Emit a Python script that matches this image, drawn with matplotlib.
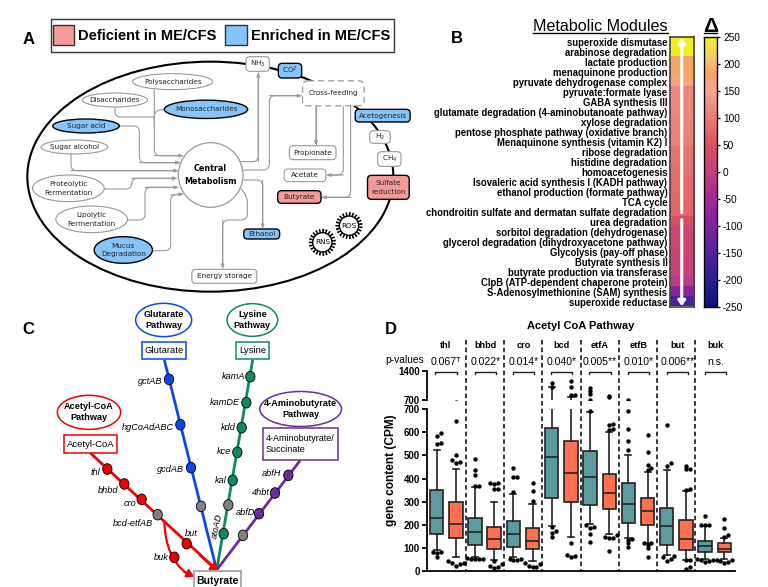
#!/usr/bin/env python
# coding: utf-8

import numpy as np
import matplotlib
matplotlib.use('Agg')
import matplotlib.pyplot as plt
from matplotlib.colors import LinearSegmentedColormap
from matplotlib.patches import Circle, Ellipse, FancyBboxPatch, PathPatch, Rectangle
from matplotlib.path import Path

plt.rcParams['font.family'] = ['Liberation Sans', 'DejaVu Sans']

W, H = 768, 587
PINK = '#F59A98'
BLUE = '#86C5FA'
GREY = '#999999'

# ---- panel A data
legend_names = ['Deficient in ME/CFS', 'Enriched in ME/CFS']

a_ellipses = ['Polysaccharides', 'Disaccharides', 'Monosaccharides', 'Sugar acid', 'Sugar alcohol',
              'Proteolytic\nFermentation', 'Lipolytic\nFermentation', 'Mucus\nDegradation']
a_ellipse_x = [518, 345, 618, 258, 223, 205, 275, 370]
a_ellipse_y = [245, 300, 328, 378, 441, 565, 658, 750]
a_ellipse_w = [240, 195, 250, 200, 200, 215, 215, 175]
a_ellipse_h = [48, 42, 55, 42, 42, 80, 80, 80]
a_ellipse_on = [0, 0, 1, 1, 0, 0, 0, 1]

a_boxes = ['NH$_3$', 'CO$^2$', 'Acetogenesis', 'H$_2$', 'CH$_4$', 'Sulfate\nreduction', 'Propionate',
           'Acetate', 'Butyrate', 'Ethanol', 'Energy storage']
a_box_x = [773, 870, 1148, 1140, 1168, 1165, 938, 915, 898, 785, 673]
a_box_y = [192, 212, 347, 411, 477, 562, 458, 526, 591, 702, 829]
a_box_w = [70, 70, 165, 62, 70, 125, 140, 125, 130, 108, 195]
a_box_h = [44, 44, 38, 38, 44, 72, 42, 38, 38, 30, 42]
a_box_fill = ['none', 'blue', 'blue', 'none', 'none', 'pink', 'none', 'none', 'pink', 'blue', 'none']

# grey routes between the nodes, last flag says if it ends in an arrow
a_routes = [
    ([(463, 268), (463, 467), (550, 467)], True),
    ([(345, 322), (345, 351), (463, 351)], False),
    ([(493, 328), (463, 332), (463, 380)], False),
    ([(358, 378), (418, 378), (418, 488), (540, 488)], True),
    ([(213, 462), (213, 512), (535, 512)], True),
    ([(312, 567), (395, 567), (395, 535), (530, 535)], True),
    ([(383, 660), (435, 660), (435, 562), (535, 562)], True),
    ([(458, 752), (512, 752), (512, 585), (550, 582)], True),
    ([(722, 485), (775, 485), (775, 218)], True),
    ([(730, 510), (808, 510), (808, 287), (905, 287)], True),
    ([(948, 318), (948, 435)], True),
    ([(1030, 318), (1030, 525), (980, 525)], True),
    ([(1052, 318), (1052, 592), (965, 592)], True),
    ([(730, 540), (788, 540), (788, 685)], True),
    ([(722, 565), (742, 590), (742, 660), (668, 660), (668, 805)], True),
]

# ---- panel B data
modules = ['superoxide dismutase', 'arabinose degradation', 'lactate production', 'menaquinone production',
           'pyruvate dehydrogenase complex', 'pyruvate:formate lyase', 'GABA synthesis III',
           'glutamate degradation (4-aminobutanoate pathway)', 'xylose degradation',
           'pentose phosphate pathway (oxidative branch)', 'Menaquinone synthesis (vitamin K2) I',
           'ribose degradation', 'histidine degradation', 'homoacetogenesis',
           'Isovaleric acid synthesis I (KADH pathway)', 'ethanol production (formate pathway)', 'TCA cycle',
           'chondroitin sulfate and dermatan sulfate degradation', 'urea degradation',
           'sorbitol degradation (dehydrogenase)', 'glycerol degradation (dihydroxyacetone pathway)',
           'Glycolysis (pay-off phase)', 'Butyrate synthesis II', 'butyrate production via transferase',
           'ClpB (ATP-dependent chaperone protein)', 'S-Adenosylmethionine (SAM) synthesis',
           'superoxide reductase']
delta = [250, 250, 185, 185, 170, 112, 112, 112, 110, 108, 105, 90, 88, 85, 82, 80, 78, 76,
         45, 20, 20, 18, 15, 15, -10, -85, -160]
delta_ticks = [250, 200, 150, 100, 50, 0, -50, -100, -150, -200, -250]
cmap_stops = [(0.0, '#0A1478'), (0.1, '#2A2090'), (0.2, '#54229F'), (0.3, '#7F229E'), (0.4, '#A3299A'),
              (0.5, '#C24080'), (0.6, '#D9505F'), (0.7, '#EA7C78'), (0.8, '#F5A595'), (0.87, '#F5A565'),
              (0.92, '#F5C870'), (1.0, '#F0F020')]

# ---- panel C data
pathway_names = ['Glutarate\nPathway', 'Lysine\nPathway', 'Acetyl-CoA\nPathway', '4-Aminobutyrate\nPathway']
pathway_x = [491, 757, 267, 902]
pathway_y = [75, 75, 352, 342]
pathway_w = [168, 152, 190, 245]
pathway_h = [100, 98, 102, 105]
pathway_col = ['#0A47F0', '#0E8A5C', '#F00000', '#6A2C9E']
start_names = ['Glutarate', 'Lysine', 'Acetyl-CoA', '4-Aminobutyrate/\nSuccinate']
start_x0 = [425, 709, 192, 788]
start_x1 = [558, 808, 352, 1014]
start_y0 = [140, 140, 420, 400]
start_y1 = [193, 193, 475, 495]
line_from = [(493, 195), (758, 195), (272, 475), (900, 497)]
butyrate_xy = (650, 825)

gene_names = ['gctAB', 'hgCoAdABC', 'gcdAB', '', 'kamA', 'kamDE', 'kdd', 'kce', 'kal', '', 'atoAD',
              'abfH', '4hbt', 'abfD', '', 'thl', 'bhbd', 'cro', 'bcd-etfAB', 'but', 'buk']
gene_x = [507, 541, 573, 603, 751, 739, 725, 712, 698, 685, 671, 865, 825, 777, 729, 322, 373, 425, 473, 560, 523]
gene_y = [253, 389, 518, 634, 245, 323, 398, 472, 556, 630, 716, 541, 594, 656, 721, 522, 567, 613, 659, 746, 787]
gene_way = [0, 0, 0, -1, 1, 1, 1, 1, 1, -1, 1, 3, 3, 3, -1, 2, 2, 2, -1, 2, 2]
label_x = [488, 522, 553, 0, 735, 720, 707, 695, 681, 0, 652, 845, 808, 765, 0, 302, 355, 408, 460, 592, 507]
label_y = [260, 398, 522, 0, 245, 322, 397, 469, 557, 0, 692, 537, 592, 652, 0, 533, 587, 626, 684, 714, 789]

# ---- panel D data
groups = ['thl', 'bhbd', 'cro', 'bcd', 'etfA', 'etfB', 'but', 'buk']
p_values = ['0.067\u1d40', '0.022*', '0.014*', '0.040*', '0.005**', '0.010*', '0.006**', 'n.s.']
y_lower_ticks = [0, 100, 200, 300, 400, 500, 600, 700]
y_upper_ticks = [700, 1400]

q1 = [160, 142, 113, 95, 105, 95, 315, 300, 287, 268, 207, 200, 113, 92, 83, 82]
med = [232, 202, 168, 140, 160, 130, 495, 422, 408, 338, 290, 258, 197, 140, 107, 97]
q3 = [352, 298, 228, 192, 218, 188, 620, 560, 520, 420, 382, 316, 273, 220, 132, 120]
whis_lo = [90, 60, 60, 48, 60, 45, 195, 150, 205, 160, 145, 120, 70, 50, 55, 55]
whis_hi = [525, 443, 362, 300, 332, 290, 1022, 780, 685, 600, 500, 430, 435, 345, 195, 145]
outliers = [
    [62, 80, 85, 85, 550, 555, 585, 595],
    [25, 30, 35, 35, 45, 465, 470, 480, 500, 650],
    [55, 55, 55, 55, 58, 370, 370, 415, 435, 485],
    [15, 20, 25, 30, 45, 355, 355, 375, 380, 380],
    [50, 50, 55, 55, 342, 408, 408, 447],
    [18, 20, 25, 30, 35, 305, 345, 380],
    [150, 165, 175, 190, 1020, 1100],
    [62, 65, 72, 120, 810, 820, 1020, 1160],
    [128, 160, 185, 190, 200, 690, 850, 920, 1000],
    [88, 145, 145, 150, 155, 610, 615, 630, 635, 780, 800],
    [105, 120, 135, 140, 525, 560, 615, 690],
    [60, 100, 115, 120, 120, 435, 445, 460, 515, 590],
    [45, 55, 60, 65, 455, 465, 630],
    [10, 20, 50, 50, 350, 355, 440, 440, 455],
    [40, 45, 50, 50, 55, 200, 200, 200, 240],
    [35, 40, 45, 50, 50, 150, 155, 188, 225],
]
box_colors = ['#5B9A9E', '#FF7052']


def panel_axes(x, y, w, h, zorder=5):
    # overlay in the 3x coordinates the layout was read in
    ax = fig.add_axes([x / W, 1 - (y + h) / H, w / W, h / H], zorder=zorder)
    ax.set_xlim(0, w * 3)
    ax.set_ylim(h * 3, 0)
    ax.axis('off')
    ax.patch.set_alpha(0)
    return ax


def round_box(ax, cx, cy, w, h, fc, ec, lw=1.0, ls='-', pad=10):
    box = FancyBboxPatch((cx - w / 2 + pad, cy - h / 2 + pad), w - 2 * pad, h - 2 * pad,
                         boxstyle='round,pad=%d,rounding_size=%d' % (pad, pad + 2),
                         fc=fc, ec=ec, lw=lw, ls=ls, zorder=4)
    ax.add_patch(box)


def route(ax, pts, arrow, r=18):
    # polyline with rounded corners
    verts = [pts[0]]
    codes = [Path.MOVETO]
    for i in range(1, len(pts) - 1):
        p0, p1, p2 = np.array(pts[i - 1]), np.array(pts[i]), np.array(pts[i + 1])
        d0 = (p0 - p1) / np.linalg.norm(p0 - p1)
        d2 = (p2 - p1) / np.linalg.norm(p2 - p1)
        verts += [tuple(p1 + d0 * r), tuple(p1), tuple(p1 + d2 * r)]
        codes += [Path.LINETO, Path.CURVE3, Path.CURVE3]
    verts.append(pts[-1])
    codes.append(Path.LINETO)
    ax.add_patch(PathPatch(Path(verts, codes), fc='none', ec=GREY, lw=0.8, zorder=2))
    if arrow:
        ax.annotate('', xy=pts[-1], xytext=pts[-2], zorder=2,
                    arrowprops=dict(arrowstyle='-|>,head_length=0.22,head_width=0.1', color=GREY,
                                    lw=0.8, shrinkA=0, shrinkB=0))


def dodge(values, x, step=0.2):
    # spread outliers sideways when they sit on top of each other
    xs = []
    last = None
    count = 0
    for v in values:
        if last is not None and abs(v - last) < 14:
            count += 1
        else:
            count = 0
        sign = 1 if count % 2 else -1
        xs.append(x + sign * step * ((count + 1) // 2))
        last = v
    return xs


fig = plt.figure(figsize=(W / 100, H / 100), dpi=100)

# ---- panel A
axa = panel_axes(0, 0, 420, 300)
axa.text(85, 118, 'A', fontsize=12, fontweight='bold', ha='center', va='center')
axa.add_patch(Rectangle((152, 58), 1030, 97, fc='white', ec='#333333', lw=1.0))
axa.add_patch(Rectangle((160, 75), 62, 60, fc=PINK, ec='#333333', lw=1.0))
axa.add_patch(Rectangle((676, 75), 64, 60, fc=BLUE, ec='#333333', lw=1.0))
axa.text(235, 108, legend_names[0], fontsize=10.5, fontweight='bold', va='center')
axa.text(754, 108, legend_names[1], fontsize=10.5, fontweight='bold', va='center')

axa.add_patch(Ellipse((631, 530), 1098, 690, fc='none', ec='black', lw=1.5, zorder=1))

for r_ in a_routes:
    route(axa, r_[0], r_[1])

for i, name in enumerate(a_ellipses):
    on = a_ellipse_on[i]
    axa.add_patch(Ellipse((a_ellipse_x[i], a_ellipse_y[i]), a_ellipse_w[i], a_ellipse_h[i],
                          fc=BLUE if on else 'white', ec='black' if on else GREY, lw=1.0 if on else 0.8, zorder=3))
    axa.text(a_ellipse_x[i], a_ellipse_y[i], name, fontsize=5.2, family='DejaVu Sans', ha='center', va='center',
             color='#222222', linespacing=1.5, zorder=5)

axa.add_patch(Circle((632, 525), 97, fc='white', ec=GREY, lw=0.9, zorder=3))
axa.text(632, 525, 'Central\nMetabolism', fontsize=5.8, fontweight='bold', family='DejaVu Sans',
         ha='center', va='center', linespacing=1.5, zorder=5)

fills = {'blue': BLUE, 'pink': PINK, 'none': 'white'}
for i, name in enumerate(a_boxes):
    has_fill = a_box_fill[i] != 'none'
    round_box(axa, a_box_x[i], a_box_y[i], a_box_w[i], a_box_h[i], fills[a_box_fill[i]],
              'black' if has_fill else GREY, lw=1.0 if has_fill else 0.8)
    axa.text(a_box_x[i], a_box_y[i], name, fontsize=5.2, family='DejaVu Sans', ha='center', va='center',
             color='#222222', linespacing=1.5, zorder=5)

round_box(axa, 1000, 280, 185, 75, 'white', GREY, lw=0.9, ls=(0, (5, 3)), pad=14)
axa.text(1000, 280, 'Cross-feeding', fontsize=5.2, family='DejaVu Sans', ha='center', va='center',
         color='#222222', zorder=5)

for name, cx, cy in [('ROS', 1047, 677), ('RNS', 967, 727)]:
    axa.add_patch(Circle((cx, cy), 33, fc='white', ec='black', lw=3.6, ls=(0, (0.3, 0.3)), zorder=4))
    axa.add_patch(Circle((cx, cy), 29, fc='white', ec='black', lw=1.0, zorder=4))
    axa.text(cx, cy, name, fontsize=5.2, family='DejaVu Sans', ha='center', va='center', zorder=5)

# ---- panel B, heatmap
hm_ax = fig.add_axes([669.5 / W, 1 - 306.5 / H, 24.5 / W, 269.5 / H])
cmap = LinearSegmentedColormap.from_list('delta', cmap_stops)
hm_ax.imshow(np.array(delta)[:, None], cmap=cmap, vmin=-250, vmax=250, aspect='auto',
             extent=[0, 1, len(delta), 0], interpolation='nearest')
hm_ax.set_xticks([])
hm_ax.set_yticks(np.arange(len(modules)) + 0.5)
hm_ax.set_yticklabels(modules, fontsize=6.85, fontweight='bold')
hm_ax.tick_params(axis='y', length=0, pad=1.5)
for s in hm_ax.spines.values():
    s.set_color('#444444')
    s.set_linewidth(1.2)
hm_ax.annotate('', xy=(0.5, 0.1), xytext=(0.5, 17.6),
               arrowprops=dict(arrowstyle='-|>,head_length=0.3,head_width=0.22', color='white', lw=2.2,
                               shrinkA=0, shrinkB=0))
hm_ax.annotate('', xy=(0.5, 26.95), xytext=(0.5, 18.3),
               arrowprops=dict(arrowstyle='-|>,head_length=0.3,head_width=0.22', color='white', lw=2.2,
                               shrinkA=0, shrinkB=0))

cb_ax = fig.add_axes([703.7 / W, 1 - 306.7 / H, 13 / W, 269.5 / H])
cb_ax.imshow(np.linspace(250, -250, 256)[:, None], cmap=cmap, vmin=-250, vmax=250, aspect='auto',
             extent=[0, 1, -250, 250])
cb_ax.set_xticks([])
cb_ax.yaxis.tick_right()
cb_ax.set_yticks(delta_ticks)
cb_ax.set_yticklabels([str(t) for t in delta_ticks], fontsize=7.3)
cb_ax.tick_params(axis='y', length=2.5, width=0.9, pad=2)
for s in cb_ax.spines.values():
    s.set_linewidth(1.0)

axb = panel_axes(420, 0, 348, 320)
axb.text(112, 116, 'B', fontsize=12, fontweight='bold', ha='center', va='center')
axb.text(742, 80, 'Metabolic Modules', fontsize=11.6, ha='right', va='center')
axb.plot([340, 743], [100, 100], color='black', lw=1.0)
axb.text(871, 79, '\u0394', fontsize=15, fontweight='bold', ha='center', va='center')
axb.plot([851, 890], [100, 100], color='black', lw=1.0)

# ---- panel C
axc = panel_axes(0, 295, 380, 292)
axc.text(84, 102, 'C', fontsize=12, fontweight='bold', ha='center', va='center')

for i, name in enumerate(pathway_names):
    col = pathway_col[i]
    axc.add_patch(Ellipse((pathway_x[i], pathway_y[i]), pathway_w[i], pathway_h[i], fc='white', ec=col, lw=1.1))
    axc.text(pathway_x[i], pathway_y[i], name, fontsize=6.6, fontweight='bold', ha='center', va='center',
             linespacing=1.25)
    axc.add_patch(Rectangle((start_x0[i], start_y0[i]), start_x1[i] - start_x0[i], start_y1[i] - start_y0[i],
                            fc='white', ec=col, lw=1.1))
    if i == 3:
        axc.text(start_x0[i] + 10, (start_y0[i] + start_y1[i]) / 2, start_names[i], fontsize=6.5, ha='left',
                 va='center', linespacing=1.3)
    else:
        axc.text((start_x0[i] + start_x1[i]) / 2, (start_y0[i] + start_y1[i]) / 2, start_names[i], fontsize=6.8,
                 ha='center', va='center')
    axc.plot([line_from[i][0], butyrate_xy[0]], [line_from[i][1], butyrate_xy[1]], color=col, lw=2.0, zorder=2,
             solid_capstyle='butt')

axc.annotate('', xy=(655, 830), xytext=(600, 780), zorder=3,
             arrowprops=dict(arrowstyle='-|>,head_length=0.4,head_width=0.25', color=pathway_col[2], lw=2.0,
                             shrinkA=0, shrinkB=0))
axc.add_patch(PathPatch(Path([(493, 680), (497, 790), (560, 835)], [Path.MOVETO, Path.CURVE3, Path.CURVE3]),
                        fc='none', ec=pathway_col[2], lw=1.6, zorder=2))
axc.annotate('', xy=(582, 845), xytext=(552, 830), zorder=3,
             arrowprops=dict(arrowstyle='-|>,head_length=0.4,head_width=0.25', color=pathway_col[2], lw=1.6,
                             shrinkA=0, shrinkB=0))
axc.add_patch(Rectangle((582, 828), 141, 60, fc='white', ec='#AAAAAA', lw=1.4, zorder=4, clip_on=True))
axc.text(652, 859, 'Butyrate', fontsize=7.5, fontweight='bold', ha='center', va='center', zorder=5)

for i, name in enumerate(gene_names):
    col = pathway_col[gene_way[i]] if gene_way[i] >= 0 else '#808080'
    axc.add_patch(Ellipse((gene_x[i], gene_y[i]), 28, 32, fc=col, ec='black', lw=0.6, zorder=3))
    if name == 'atoAD':
        axc.text(label_x[i], label_y[i], name, fontsize=6.6, style='italic', rotation=78, ha='center', va='center')
    elif name:
        axc.text(label_x[i], label_y[i], name, fontsize=6.6, style='italic', ha='right', va='center')

# ---- panel D, broken axis boxplot
stats = []
for i in range(len(med)):
    stats.append(dict(q1=q1[i], med=med[i], q3=q3[i], whislo=whis_lo[i], whishi=whis_hi[i], fliers=[]))

ax_low = fig.add_axes([426.7 / W, 1 - 571.3 / H, 308.3 / W, 162.3 / H])
ax_up = fig.add_axes([426.7 / W, 1 - 400 / H, 308.3 / W, 29 / H])

for ax in (ax_low, ax_up):
    bp = ax.bxp(stats, positions=np.arange(len(med)), widths=0.7, patch_artist=True, showfliers=False,
                medianprops=dict(color='#222222', lw=1.2), boxprops=dict(edgecolor='#222222', lw=1.2),
                whiskerprops=dict(color='#222222', lw=1.2), capprops=dict(color='#222222', lw=1.2), capwidths=0.32)
    for k, b in enumerate(bp['boxes']):
        b.set_facecolor(box_colors[k % 2])
    for k, vals in enumerate(outliers):
        ax.scatter(dodge(vals, k), vals, s=10, color='black', zorder=4, clip_on=True, linewidths=0)
    ax.set_xlim(-0.52, 15.56)
    ax.set_xticks([])
    for s in ['top', 'right']:
        ax.spines[s].set_visible(False)
    ax.spines['left'].set_linewidth(1.3)
    ax.tick_params(axis='y', width=1.3, length=3.5, pad=1.5, labelsize=7)
    ax.patch.set_alpha(0)

ax_low.set_ylim(0, 700)
ax_low.set_yticks(y_lower_ticks)
ax_low.set_yticklabels(y_lower_ticks, fontweight='bold')
ax_low.spines['bottom'].set_linewidth(1.3)
ax_low.set_ylabel('gene content (CPM)', fontsize=8.6, fontweight='bold')
ax_low.yaxis.set_label_coords(-0.096, 0.624)

ax_up.set_ylim(700, 1400)
ax_up.set_yticks(y_upper_ticks)
ax_up.set_yticklabels(y_upper_ticks, fontweight='bold')
ax_up.spines['bottom'].set_visible(False)

axd = panel_axes(380, 315, 388, 272)
axd.text(33, 42, 'D', fontsize=12, fontweight='bold', ha='center', va='center')
axd.text(603, 33, 'Acetyl CoA Pathway', fontsize=8, fontweight='bold', ha='center', va='center')
axd.text(75, 135, 'p-values', fontsize=7.4, ha='center', va='center')

group_centres = [198, 316, 430, 544, 660, 776, 892, 1006]
for i, g in enumerate(groups):
    xc = group_centres[i]
    axd.text(xc, 92, g, fontsize=6.6, fontweight='bold', ha='center', va='center')
    axd.text(xc, 141, p_values[i], fontsize=7.6, ha='center', va='center')
    axd.plot([xc - 32, xc - 32, xc + 32, xc + 32], [178, 170, 170, 178], color='#222222', lw=1.0)
for x in [258, 373, 487, 602, 717, 831, 946]:
    axd.plot([x, x], [75, 771], color='black', lw=1.1, ls=(0, (3, 2)))

fig.savefig('out.png', dpi=100)
